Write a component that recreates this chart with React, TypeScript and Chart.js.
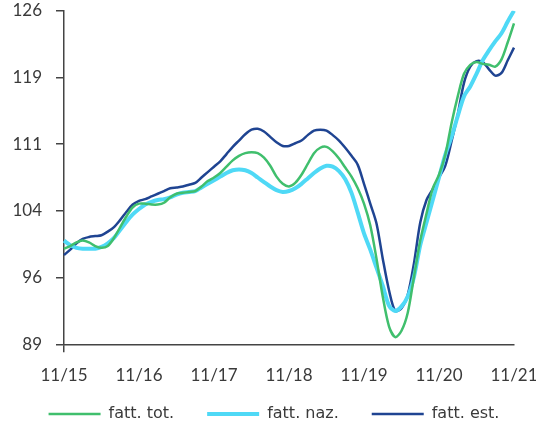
import React, { useEffect, useRef } from "react";
import { Chart, registerables } from "chart.js";

Chart.register(...registerables);

const startYear = 15;
const months = 73;
const categories: string[] = [];
for (let i = 0; i < months; i++) {
  const m = ((10 + i) % 12) + 1;
  const y = startYear + Math.floor((10 + i) / 12);
  categories.push(`${m}/${y}`);
}

const fattTot = [
  99.6, 99.9, 100.3, 100.5, 100.3, 99.9, 99.7, 99.9, 100.8, 102.0, 103.2, 104.2,
  104.6, 104.6, 104.5, 104.5, 104.7, 105.3, 105.7, 105.8, 105.9, 106.0, 106.5, 107.1,
  107.5, 108.0, 108.7, 109.4, 109.9, 110.2, 110.3, 110.2, 109.7, 108.8, 107.6, 106.8,
  106.5, 106.9, 107.8, 109.0, 110.2, 110.8, 110.9, 110.4, 109.6, 108.6, 107.6, 106.3,
  104.6, 102.2, 98.5, 94.3, 91.0, 89.8, 90.5, 92.5, 96.5, 100.5, 103.5, 106.3,
  107.8, 110.0, 113.5, 116.5, 119.0, 120.0, 120.3, 120.1, 120.0, 119.8, 120.6, 122.5,
  124.6,
];

const fattNaz = [
  100.5, 100.0, 99.7, 99.6, 99.6, 99.6, 99.8, 100.2, 100.8, 101.7, 102.6, 103.4,
  104.0, 104.5, 104.8, 105.0, 105.1, 105.3, 105.6, 105.8, 105.9, 106.0, 106.4, 106.8,
  107.2, 107.6, 108.0, 108.3, 108.4, 108.3, 108.0, 107.5, 107.0, 106.5, 106.1, 105.9,
  106.0, 106.3, 106.8, 107.4, 108.0, 108.5, 108.8, 108.7, 108.2, 107.3, 105.8, 103.6,
  101.3, 99.5, 97.5, 95.5, 93.3, 92.7, 93.2, 94.3, 96.5, 100.0, 102.5, 105.0,
  107.5, 110.0, 112.0, 114.3, 116.5, 117.6, 119.0, 120.5, 121.6, 122.6, 123.5, 124.8,
  126.0,
];

const fattEst = [
  98.9, 99.5, 100.2, 100.7, 100.9, 101.0, 101.1, 101.5, 102.0, 102.8, 103.7, 104.5,
  104.9, 105.1, 105.4, 105.7, 106.0, 106.3, 106.4, 106.5, 106.7, 106.9, 107.5, 108.1,
  108.7, 109.3, 110.1, 110.9, 111.6, 112.3, 112.8, 112.9, 112.6, 112.0, 111.4, 111.0,
  111.0, 111.3, 111.6, 112.2, 112.7, 112.8, 112.7, 112.2, 111.6, 110.8, 109.9, 108.9,
  106.8, 104.6, 102.4, 98.5, 95.0, 92.7, 93.0, 94.5, 98.0, 102.5, 105.0, 106.2,
  107.5, 108.8, 111.5, 114.5, 118.0, 119.8, 120.4, 120.3, 119.5, 118.8, 119.1, 120.5,
  121.9,
];

const yTickValues = [89, 96.4, 103.8, 111.2, 118.6, 126];
const yTickLabels = ["89", "96", "104", "111", "119", "126"];

const TICK_FONT = "Lato";
const LEGEND_FONT = "DejaVu Sans";
const LEGEND_SIZE = 16;
const LEGEND_PAD = 33;
const LEGEND_TEXT_Y = 414;
const TEXT = "#3a3a3a";
const AXIS = "#444444";

const legendPlace = {
  id: "legendPlace",
  afterLayout(chart: any) {
    const lg = chart.legend;
    if (!lg) return;
    lg.top = LEGEND_TEXT_Y - LEGEND_PAD - LEGEND_SIZE / 2;
    lg.bottom = chart.height;
    lg.height = lg.bottom - lg.top;
  },
};

export default function App() {
  const ref = useRef<HTMLCanvasElement | null>(null);

  useEffect(() => {
    document.body.style.margin = "0";
    const canvas = ref.current;
    if (!canvas) return;
    const chart = new Chart(canvas, {
      type: "line",
      data: {
        labels: categories,
        datasets: [
          {
            label: "fatt. tot.",
            data: fattTot,
            borderColor: "#40bf6d",
            backgroundColor: "#40bf6d",
            borderWidth: 2.5,
            pointRadius: 0,
            tension: 0.3,
          },
          {
            label: "fatt. naz.",
            data: fattNaz,
            borderColor: "#4fd9f6",
            backgroundColor: "#4fd9f6",
            borderWidth: 4,
            pointRadius: 0,
            tension: 0.3,
          },
          {
            label: "fatt. est.",
            data: fattEst,
            borderColor: "#1f4492",
            backgroundColor: "#1f4492",
            borderWidth: 2.5,
            pointRadius: 0,
            tension: 0.3,
          },
        ],
      },
      plugins: [legendPlace],
      options: {
        animation: false,
        responsive: false,
        maintainAspectRatio: false,
        layout: { padding: { left: 12, right: 0, top: 0, bottom: 0 } },
        plugins: {
          tooltip: { enabled: false },
          legend: {
            position: "bottom",
            maxHeight: 43,
            labels: {
              usePointStyle: true,
              pointStyle: "line",
              pointStyleWidth: 52,
              boxHeight: LEGEND_SIZE,
              padding: LEGEND_PAD,
              color: TEXT,
              font: { family: LEGEND_FONT, size: LEGEND_SIZE },
            },
          },
        },
        scales: {
          x: {
            type: "category",
            offset: false,
            border: { display: true, color: AXIS, width: 1.5 },
            grid: {
              drawOnChartArea: false,
              drawTicks: true,
              tickLength: 8,
              color: (ctx: any) => (ctx.index % 12 === 0 ? AXIS : "rgba(0,0,0,0)"),
              lineWidth: 1.5,
            },
            ticks: {
              autoSkip: false,
              maxRotation: 0,
              padding: 13,
              color: TEXT,
              font: { family: TICK_FONT, size: 17 },
              callback: (_v: any, i: number) => (i % 12 === 0 ? categories[i] : null),
            },
            afterFit: (scale: any) => {
              scale.height = 47.7;
              scale.paddingLeft = 0;
              scale.paddingRight = 22;
            },
          },
          y: {
            type: "linear",
            min: 89,
            max: 126,
            border: { display: true, color: AXIS, width: 1.5 },
            grid: {
              drawOnChartArea: false,
              drawTicks: true,
              tickLength: 8,
              color: AXIS,
              lineWidth: 1.5,
            },
            afterBuildTicks: (scale: any) => {
              scale.ticks = yTickValues.map((v) => ({ value: v }));
            },
            afterFit: (scale: any) => {
              scale.width = 52;
              scale.paddingTop = 10.7;
              scale.paddingBottom = 0;
            },
            ticks: {
              padding: 14,
              color: TEXT,
              font: { family: TICK_FONT, size: 17 },
              callback: (v: any) => {
                const idx = yTickValues.findIndex((t) => Math.abs(t - Number(v)) < 1e-6);
                return idx >= 0 ? yTickLabels[idx] : "";
              },
            },
          },
        },
      },
    });
    return () => chart.destroy();
  }, []);

  return (
    <div style={{ width: 536, height: 435 }}>
      <canvas ref={ref} width={536} height={435} style={{ display: "block" }} />
    </div>
  );
}
